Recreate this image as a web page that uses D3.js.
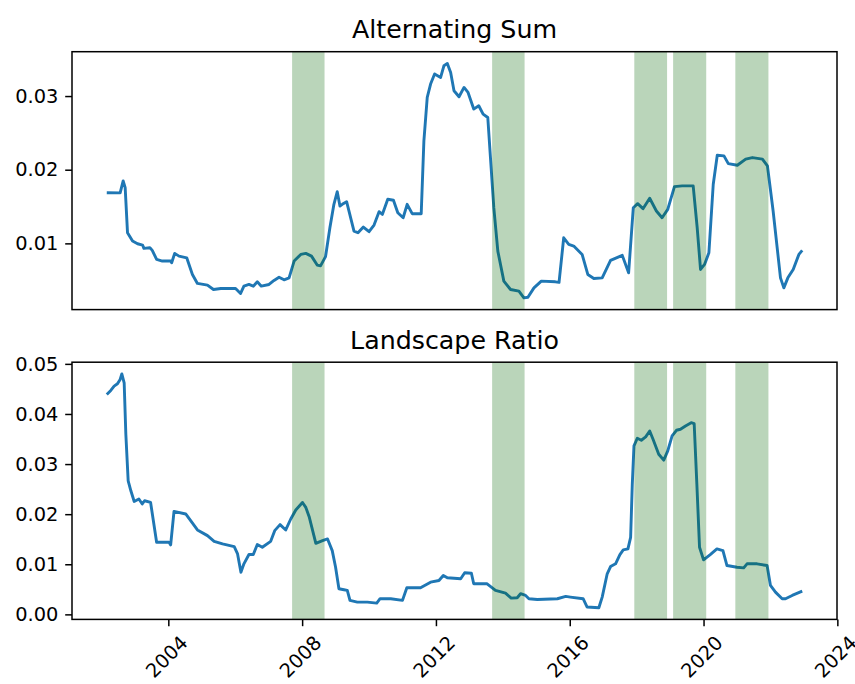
<!DOCTYPE html>
<html>
<head>
<meta charset="utf-8">
<script src="https://cdn.jsdelivr.net/npm/d3@7"></script>
<style>
  html, body { margin: 0; padding: 0; background: #fff; }
  svg { display: block; font-family: "DejaVu Sans", sans-serif; }
</style>
</head>
<body>
<svg id="chart" width="855" height="684"></svg>
<script>
// Alternating Sum series (decimal year, value)
const altYears = [2002.16,2002.56,2002.65,2002.71,2002.78,2002.93,2003.08,2003.23,2003.27,2003.45,2003.52,2003.65,2003.82,2004.07,2004.10,2004.19,2004.32,2004.55,2004.72,2004.87,2005.17,2005.35,2005.57,2006.01,2006.16,2006.26,2006.41,2006.54,2006.66,2006.78,2007.01,2007.16,2007.31,2007.46,2007.61,2007.76,2007.96,2008.11,2008.28,2008.45,2008.55,2008.70,2008.83,2008.95,2009.05,2009.13,2009.20,2009.33,2009.55,2009.67,2009.83,2010.00,2010.15,2010.30,2010.40,2010.56,2010.73,2010.86,2011.02,2011.14,2011.29,2011.56,2011.64,2011.74,2011.84,2011.96,2012.14,2012.24,2012.34,2012.44,2012.54,2012.69,2012.84,2012.96,2013.13,2013.28,2013.41,2013.55,2013.63,2013.73,2013.85,2014.03,2014.23,2014.48,2014.63,2014.75,2014.93,2015.15,2015.57,2015.68,2015.82,2015.97,2016.12,2016.37,2016.54,2016.72,2016.97,2017.22,2017.57,2017.76,2017.90,2018.03,2018.19,2018.39,2018.59,2018.76,2018.93,2019.13,2019.36,2019.69,2019.81,2019.91,2020.03,2020.16,2020.29,2020.41,2020.61,2020.74,2021.01,2021.26,2021.46,2021.76,2021.91,2022.08,2022.30,2022.40,2022.52,2022.68,2022.85,2022.95];
const altValues = [0.01688,0.01685,0.01848,0.01757,0.01144,0.01031,0.00995,0.00977,0.00932,0.0094,0.00905,0.00782,0.0076,0.0076,0.00736,0.00864,0.00827,0.00804,0.00578,0.00456,0.00433,0.00374,0.00388,0.00388,0.0032,0.00419,0.00442,0.00419,0.00478,0.00419,0.00442,0.00497,0.00541,0.00505,0.00532,0.0076,0.0085,0.00864,0.00827,0.00705,0.00695,0.0082,0.01212,0.0153,0.01702,0.01507,0.0153,0.01566,0.01167,0.01144,0.01222,0.01158,0.01249,0.0143,0.01394,0.01599,0.01585,0.01416,0.01348,0.0153,0.01403,0.01403,0.02392,0.02981,0.03163,0.033,0.03253,0.03412,0.03443,0.03321,0.03072,0.0299,0.03117,0.03049,0.02823,0.02868,0.02755,0.02709,0.02165,0.01484,0.00895,0.00487,0.00374,0.00351,0.0026,0.00269,0.00396,0.00487,0.00478,0.0047,0.01076,0.00986,0.00963,0.0085,0.00578,0.00524,0.00532,0.00769,0.00837,0.006,0.01484,0.01539,0.01471,0.01612,0.0144,0.01348,0.01462,0.0177,0.0178,0.0178,0.01212,0.00646,0.00714,0.00872,0.01803,0.02197,0.02188,0.02083,0.02061,0.02143,0.02165,0.02143,0.02052,0.0144,0.00532,0.00396,0.00532,0.00646,0.0085,0.00905];

// Landscape Ratio series (decimal year, value)
const ratioYears = [2002.16,2002.28,2002.38,2002.48,2002.56,2002.61,2002.68,2002.73,2002.80,2002.88,2002.98,2003.12,2003.22,2003.29,2003.47,2003.65,2004.02,2004.07,2004.17,2004.52,2004.87,2005.17,2005.37,2005.62,2005.97,2006.07,2006.17,2006.26,2006.41,2006.54,2006.66,2006.81,2007.06,2007.18,2007.34,2007.51,2007.66,2007.81,2008.01,2008.11,2008.21,2008.41,2008.61,2008.76,2008.90,2009.00,2009.10,2009.25,2009.35,2009.43,2009.65,2009.95,2010.23,2010.33,2010.65,2011.00,2011.13,2011.54,2011.84,2012.09,2012.22,2012.34,2012.74,2012.86,2013.06,2013.13,2013.53,2013.78,2014.08,2014.25,2014.43,2014.53,2014.68,2014.78,2015.03,2015.63,2015.88,2016.02,2016.40,2016.52,2016.87,2016.97,2017.12,2017.22,2017.37,2017.50,2017.60,2017.74,2017.82,2017.87,2017.92,2018.02,2018.14,2018.27,2018.39,2018.49,2018.66,2018.81,2018.93,2019.06,2019.19,2019.31,2019.46,2019.63,2019.72,2019.80,2019.88,2020.00,2020.20,2020.40,2020.58,2020.70,2021.00,2021.20,2021.30,2021.60,2021.90,2022.00,2022.15,2022.35,2022.45,2022.65,2022.95];
const ratioValues = [0.0439,0.0447,0.04556,0.04602,0.0469,0.048,0.04622,0.03595,0.02666,0.02467,0.02254,0.02302,0.02203,0.02268,0.02234,0.01439,0.01439,0.01387,0.02055,0.02004,0.01685,0.01572,0.01458,0.01406,0.01353,0.01207,0.00842,0.01009,0.01194,0.01194,0.01393,0.01339,0.01458,0.01671,0.01791,0.01685,0.01904,0.02083,0.02234,0.02135,0.0195,0.01419,0.01472,0.01506,0.01273,0.00941,0.00511,0.00491,0.00478,0.00279,0.00245,0.00245,0.00225,0.00312,0.00312,0.00279,0.00531,0.00531,0.00643,0.00676,0.00776,0.0073,0.0071,0.0083,0.00822,0.0061,0.0061,0.00478,0.00424,0.00324,0.00332,0.00412,0.00378,0.00312,0.00298,0.00312,0.00358,0.00345,0.00312,0.00146,0.00133,0.00345,0.0081,0.00955,0.01009,0.01194,0.01287,0.01307,0.01538,0.026,0.03362,0.03516,0.03476,0.03542,0.03661,0.03496,0.03197,0.03078,0.03263,0.03561,0.03675,0.03695,0.0376,0.03826,0.03806,0.026,0.01339,0.01088,0.01194,0.01307,0.01273,0.00975,0.00941,0.00928,0.01009,0.01009,0.00975,0.00577,0.00444,0.00312,0.00312,0.00378,0.00464];

// Shaded periods (start, end in decimal years)
const bandStarts = [2007.70, 2013.68, 2017.93, 2019.09, 2020.95];
const bandEnds   = [2008.67, 2014.65, 2018.91, 2020.08, 2021.94];

// Axis ticks
const xTickYears = [2004, 2008, 2012, 2016, 2020, 2024];
const topTicks = [0.01, 0.02, 0.03];
const bottomTicks = [0.00, 0.01, 0.02, 0.03, 0.04, 0.05];

const panelTitles = ["Alternating Sum", "Landscape Ratio"];

const svg = d3.select("#chart");
const left = 72, right = 837;
const FONT = 19.4, TITLE_FONT = 25.3, TICK = 6.8, PAD = 6.8;

// x domain: data span plus 5% margins on each side
const x0 = d3.min(altYears), x1 = d3.max(altYears);
const xm = (x1 - x0) * 0.05;
const x = d3.scaleLinear().domain([x0 - xm, x1 + xm]).range([left, right]);

function padded(vals) {
  const lo = d3.min(vals), hi = d3.max(vals), m = (hi - lo) * 0.05;
  return [lo - m, hi + m];
}

const panels = [
  { title: panelTitles[0], years: altYears, values: altValues, ticks: topTicks, top: 51.7, bottom: 309.6, xaxis: false },
  { title: panelTitles[1], years: ratioYears, values: ratioValues, ticks: bottomTicks, top: 362.2, bottom: 619.4, xaxis: true }
];

panels.forEach(p => {
  const y = d3.scaleLinear().domain(padded(p.values)).range([p.bottom, p.top]);
  const g = svg.append("g");

  // series line
  const pts = p.years.map((yr, i) => [yr, p.values[i]]);
  g.append("path")
    .datum(pts)
    .attr("fill", "none")
    .attr("stroke", "#1f77b4")
    .attr("stroke-width", 2.9)
    .attr("stroke-linejoin", "round")
    .attr("stroke-linecap", "butt")
    .attr("d", d3.line().x(d => x(d[0])).y(d => y(d[1])));

  // shaded periods over the line
  g.append("g").selectAll("rect")
    .data(bandStarts.map((s, i) => [s, bandEnds[i]]))
    .join("rect")
    .attr("x", d => x(d[0]))
    .attr("width", d => x(d[1]) - x(d[0]))
    .attr("y", p.top)
    .attr("height", p.bottom - p.top)
    .attr("fill", "#006400")
    .attr("fill-opacity", 0.27);

  // y axis
  const yAxis = d3.axisLeft(y).tickValues(p.ticks).tickFormat(d3.format(".2f"))
    .tickSizeInner(TICK).tickSizeOuter(0).tickPadding(PAD);
  const ya = g.append("g").attr("transform", `translate(${left},0)`).call(yAxis);
  ya.select(".domain").remove();
  ya.selectAll("line").attr("stroke", "#000").attr("stroke-width", 1.5);
  ya.selectAll("text").attr("font-size", FONT).attr("fill", "#000")
    .attr("font-family", "DejaVu Sans, sans-serif");

  // x axis
  if (p.xaxis) {
    const xAxis = d3.axisBottom(x).tickValues(xTickYears).tickFormat(d3.format("d"))
      .tickSizeInner(TICK).tickSizeOuter(0).tickPadding(PAD);
    const xa = g.append("g").attr("transform", `translate(0,${p.bottom})`).call(xAxis);
    xa.select(".domain").remove();
    xa.selectAll("line").attr("stroke", "#000").attr("stroke-width", 1.5);
    xa.selectAll("text")
      .attr("font-size", FONT).attr("fill", "#000")
      .attr("font-family", "DejaVu Sans, sans-serif")
      .attr("text-anchor", "middle")
      .attr("dy", null)
      .attr("dominant-baseline", "central")
      .each(function() {
        const w = this.getComputedTextLength();
        const half = (w + FONT * 0.95) * Math.SQRT1_2 / 2;
        d3.select(this)
          .attr("y", null)
          .attr("transform", `translate(-2,${TICK + PAD + half}) rotate(-45)`);
      });
  }

  // frame
  g.append("rect")
    .attr("x", left).attr("y", p.top)
    .attr("width", right - left).attr("height", p.bottom - p.top)
    .attr("fill", "none").attr("stroke", "#000").attr("stroke-width", 1.5);

  // title
  g.append("text")
    .attr("x", (left + right) / 2)
    .attr("y", p.top - 13.4)
    .attr("text-anchor", "middle")
    .attr("font-size", TITLE_FONT)
    .attr("fill", "#000")
    .text(p.title);
});
</script>
</body>
</html>
